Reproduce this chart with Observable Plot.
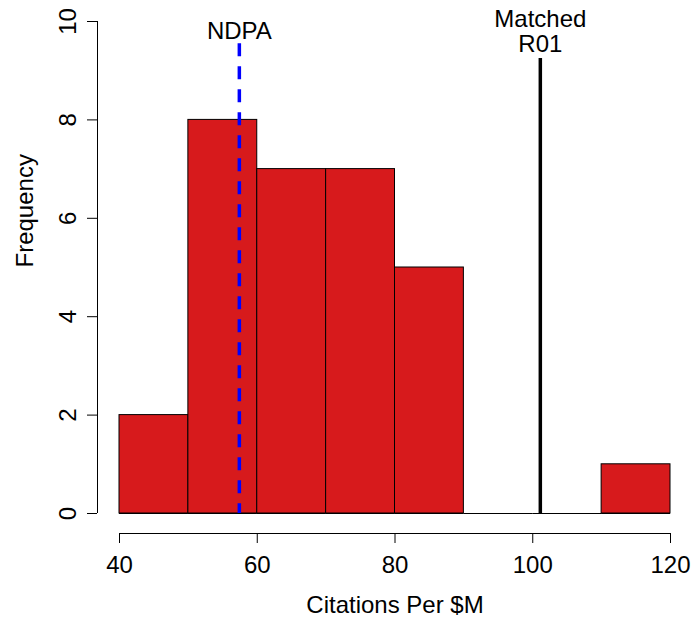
<!DOCTYPE html>
<html>
<head>
<meta charset="utf-8">
<script src="https://cdn.jsdelivr.net/npm/d3@7"></script>
<script src="https://cdn.jsdelivr.net/npm/@observablehq/plot@0.6"></script>
<style>
  html, body { margin: 0; padding: 0; background: #fff; }
  #chart svg { display: block; }
</style>
</head>
<body>
<div id="chart"></div>
<script>
// Histogram bins (Citations Per $M)
const binStart = [40, 50, 60, 70, 80, 90, 100, 110];
const binEnd   = [50, 60, 70, 80, 90, 100, 110, 120];
const counts   = [2, 8, 7, 7, 5, 0, 0, 1];

// Axis ticks
const xTicks = [40, 60, 80, 100, 120];
const yTicks = [0, 2, 4, 6, 8, 10];

// Reference lines
const refNames  = ["NDPA", "Matched\nR01"];
const refValues = [57.4, 101.1];
const refTops   = [9.55, 9.25];
const refLabelY = [9.8, 9.8];

const bins = binStart.map((s, i) => ({x1: s, x2: binEnd[i], count: counts[i]}));
const refs = refNames.map((n, i) => ({name: n, value: refValues[i], top: refTops[i], ly: refLabelY[i]}));

const font = "'Liberation Sans', Arial, Helvetica, sans-serif";
const fs = 24;

const chart = Plot.plot({
  width: 691,
  height: 620,
  marginLeft: 119,
  marginRight: 21,
  marginTop: 21,
  marginBottom: 107,
  style: {fontFamily: font, fontSize: fs + "px", background: "#fff", color: "#000"},
  x: {domain: [40, 120]},
  y: {domain: [0, 10]},
  marks: [
    // bars
    Plot.rect(bins.filter(d => d.count > 0), {x1: "x1", x2: "x2", y1: 0, y2: "count", fill: "#d71a1c", stroke: "#000", strokeWidth: 1}),
    Plot.ruleY(bins, {y: 0, x1: "x1", x2: "x2", stroke: "#000", strokeWidth: 1}),
    // reference lines
    Plot.ruleX(refs.filter((d, i) => i === 0), {x: "value", y1: "top", y2: 0, stroke: "#0000ff", strokeWidth: 3.5, strokeDasharray: "13,10", strokeLinecap: "butt"}),
    Plot.ruleX(refs.filter((d, i) => i === 1), {x: "value", y1: "top", y2: 0, stroke: "#000", strokeWidth: 3.5}),
    Plot.text(refs, {x: "value", y: "ly", text: "name", fontSize: fs, lineHeight: 1.05, lineAnchor: "middle", textAnchor: "middle", fill: "#000"}),
    // axes (R style, offset from plot region)
    Plot.ruleX([40], {y1: 0, y2: 10, dx: -22, stroke: "#000", strokeWidth: 1}),
    Plot.axisY({ticks: yTicks, tickSize: 10, tickPadding: 12, tickRotate: -90, dx: -22, label: null, fontSize: fs}),
    Plot.ruleY([0], {x1: 40, x2: 120, dy: 20, stroke: "#000", strokeWidth: 1}),
    Plot.axisX({ticks: xTicks, tickSize: 10, tickPadding: 12, dy: 20, label: null, fontSize: fs}),
    // axis titles
    Plot.text(["Citations Per $M"], {frameAnchor: "bottom", dy: 92, text: d => d, fontSize: fs, lineAnchor: "middle"}),
    Plot.text(["Frequency"], {frameAnchor: "left", dx: -94, rotate: -90, text: d => d, fontSize: fs, lineAnchor: "middle"})
  ]
});

document.getElementById("chart").appendChild(chart);
</script>
</body>
</html>
